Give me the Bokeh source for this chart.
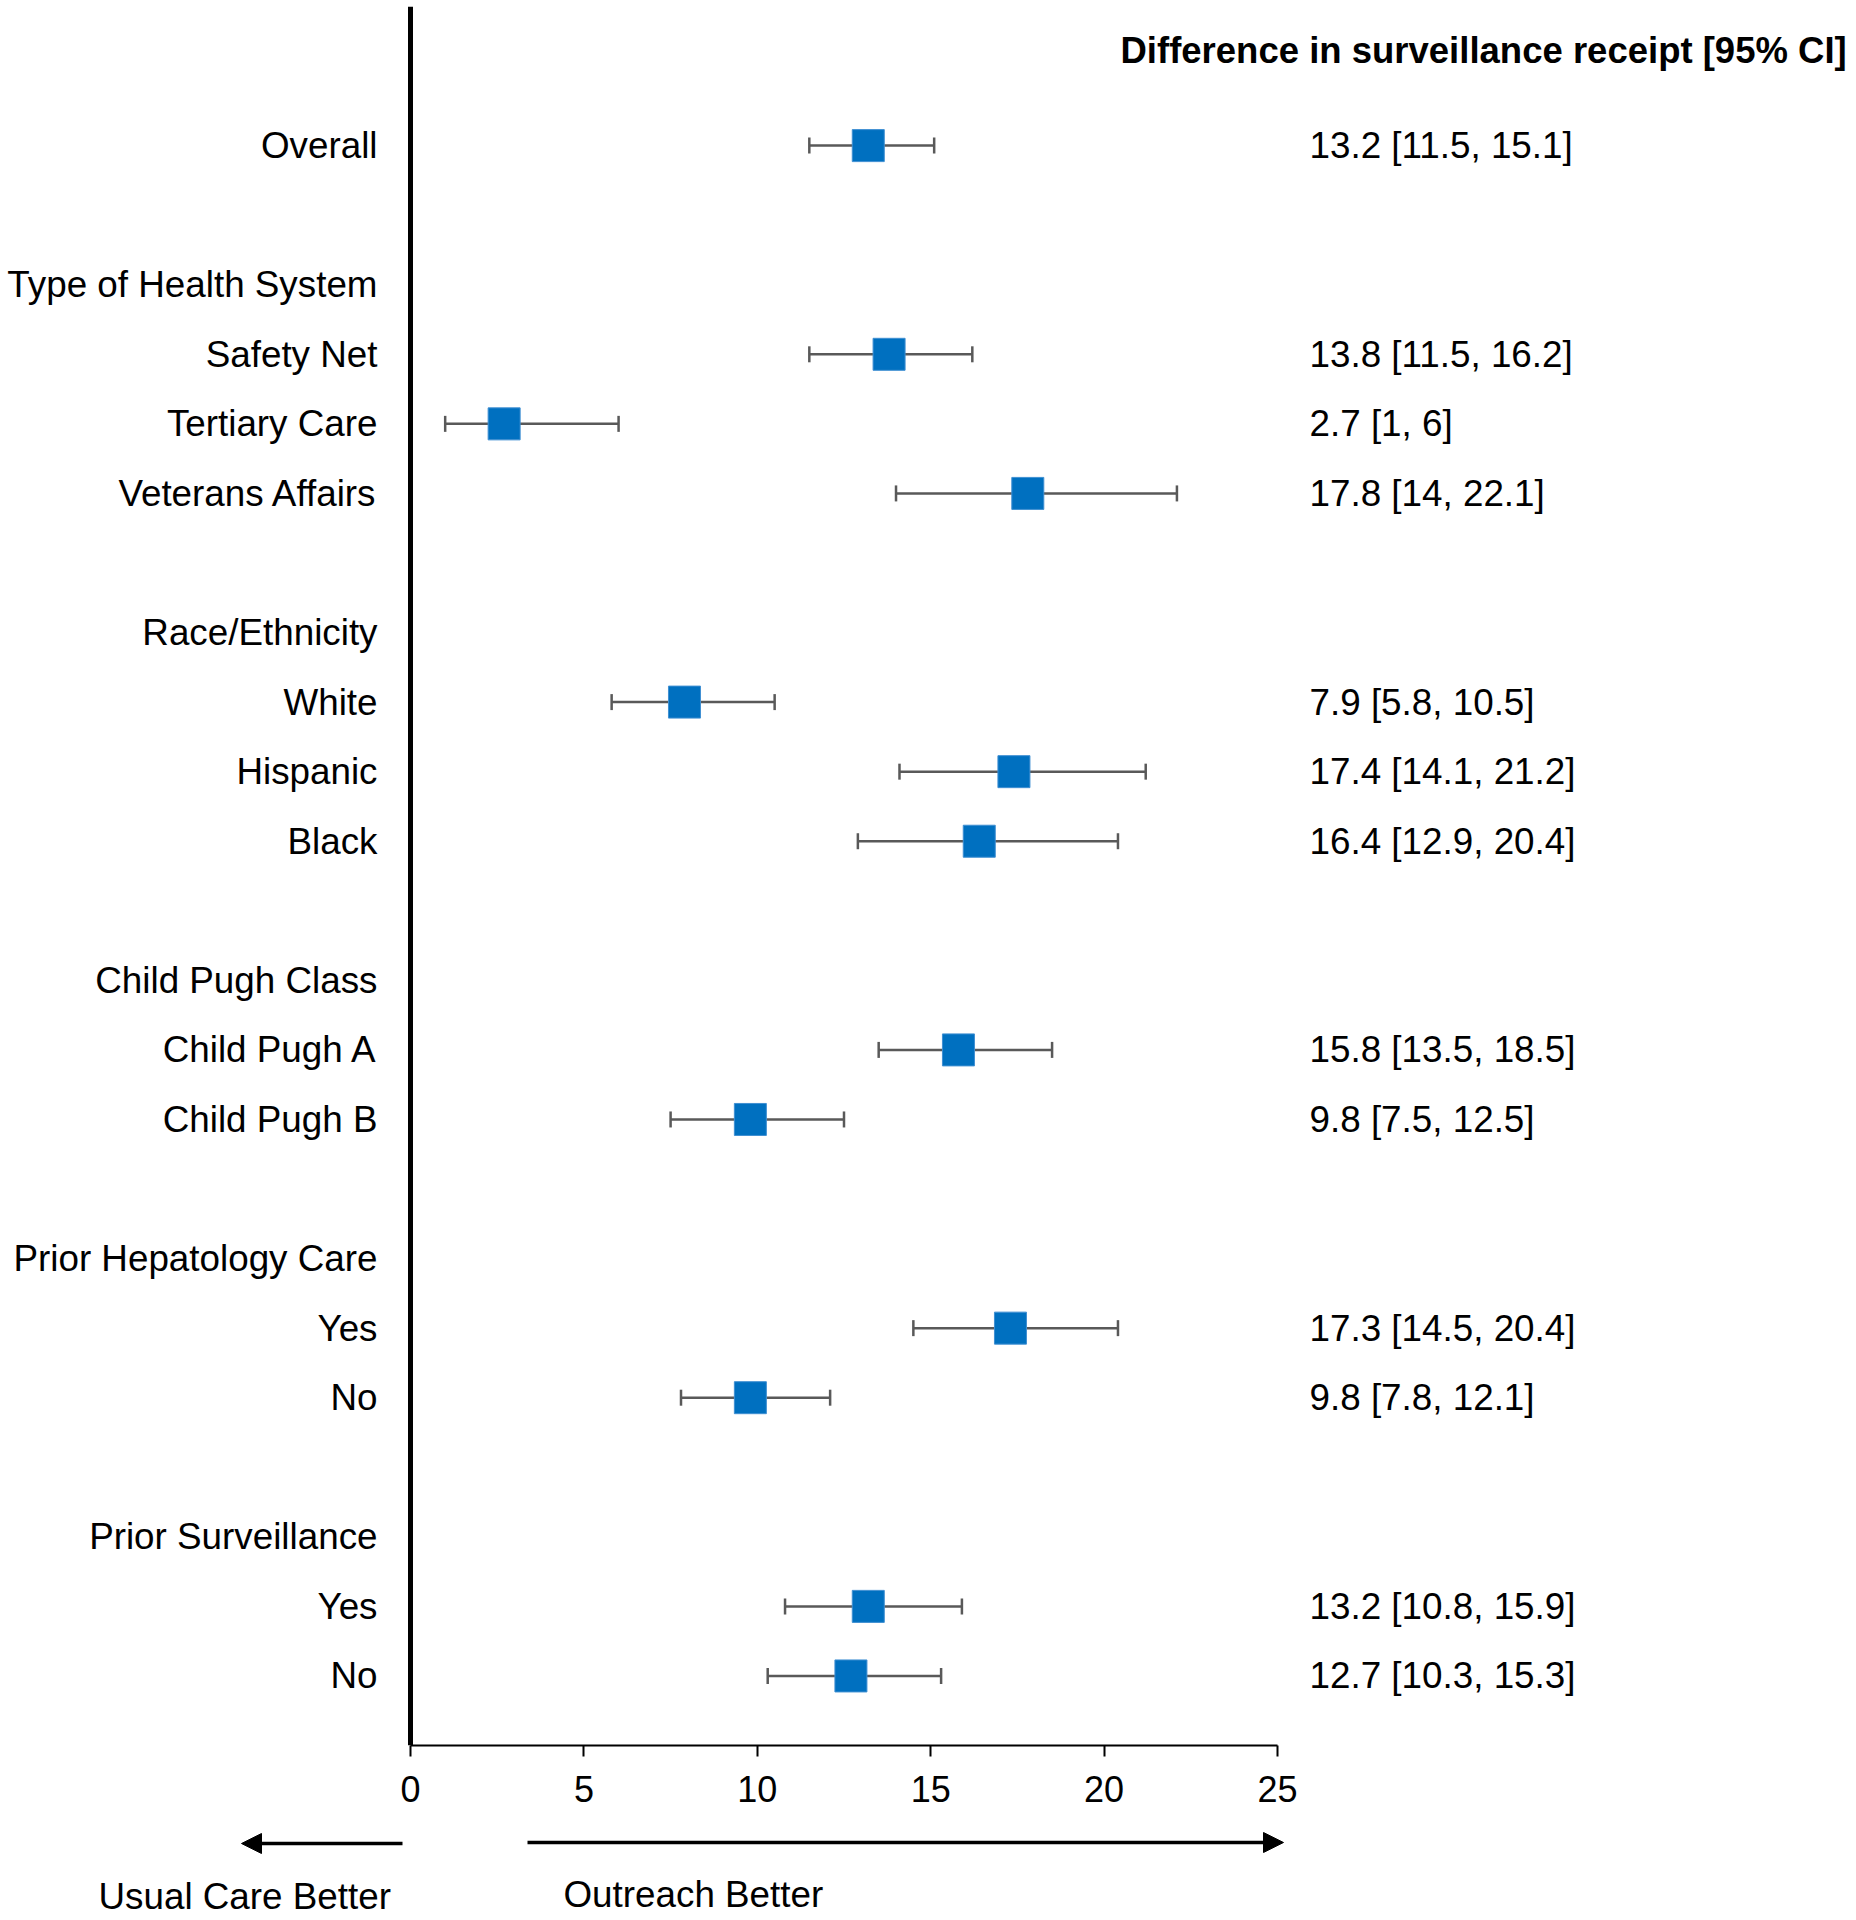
from bokeh.plotting import figure
from bokeh.models import (Range1d, FixedTicker, Span, Whisker, TeeHead,
                          ColumnDataSource, Arrow, NormalHead)
from bokeh.layouts import column
from bokeh.core.properties import value
from bokeh.embed import file_html
from bokeh.resources import INLINE

# ---------------- data ----------------
row_labels = ["Overall", "", "Type of Health System", "Safety Net", "Tertiary Care",
              "Veterans Affairs", "", "Race/Ethnicity", "White", "Hispanic", "Black", "",
              "Child Pugh Class", "Child Pugh A", "Child Pugh B", "",
              "Prior Hepatology Care", "Yes", "No", "", "Prior Surveillance", "Yes", "No"]
estimate = [13.2, None, None, 13.8, 2.7, 17.8, None, None, 7.9, 17.4, 16.4, None,
            None, 15.8, 9.8, None, None, 17.3, 9.8, None, None, 13.2, 12.7]
ci_low = [11.5, None, None, 11.5, 1.0, 14.0, None, None, 5.8, 14.1, 12.9, None,
          None, 13.5, 7.5, None, None, 14.5, 7.8, None, None, 10.8, 10.3]
ci_high = [15.1, None, None, 16.2, 6.0, 22.1, None, None, 10.5, 21.2, 20.4, None,
           None, 18.5, 12.5, None, None, 20.4, 12.1, None, None, 15.9, 15.3]
x_ticks = [0, 5, 10, 15, 20, 25]
header = "Difference in surveillance receipt [95% CI]"
left_note = "Usual Care Better"
right_note = "Outreach Better"

# ---------------- layout constants ----------------
W = 1854
AXIS_PX = 410.0            # canvas x of value 0
PX_PER_UNIT = 867.0 / 25   # pixels per unit
FONT = value("Liberation Sans")
TXT = value("36.8px")
xr = Range1d(-AXIS_PX / PX_PER_UNIT, (W - AXIS_PX) / PX_PER_UNIT)

def px_to_x(px):
    return (px - AXIS_PX) / PX_PER_UNIT

rows = list(range(len(row_labels)))
idx = [i for i in rows if estimate[i] is not None]
src = ColumnDataSource(dict(
    y=[i for i in idx],
    est=[estimate[i] for i in idx],
    lo=[ci_low[i] for i in idx],
    hi=[ci_high[i] for i in idx],
    txt=[f"{estimate[i]:g} [{ci_low[i]:g}, {ci_high[i]:g}]" for i in idx],
))

H1 = 1815
p = figure(width=W, height=H1, x_range=xr, y_range=Range1d(len(row_labels), -2),
           output_backend="svg", toolbar_location=None, y_axis_location=None,
           min_border_left=0, min_border_right=0, min_border_top=6, min_border_bottom=70)
p.grid.visible = False
p.outline_line_color = None

ax = p.xaxis[0]
ax.bounds = (0, 25)
ax.ticker = FixedTicker(ticks=x_ticks)
ax.minor_tick_line_color = None
ax.major_tick_in = 0
ax.major_tick_out = 11
ax.major_tick_line_width = 2
ax.major_tick_line_color = "black"
ax.axis_line_width = 2
ax.axis_line_color = "black"
ax.major_label_standoff = 19
ax.major_label_text_font = "Liberation Sans"
ax.major_label_text_font_size = "36px"
ax.major_label_text_color = "black"

p.add_layout(Span(location=0, dimension="height", line_color="black", line_width=5))

p.add_layout(Whisker(source=src, base="y", lower="lo", upper="hi", dimension="width",
                     line_color="#595959", line_width=2.5,
                     lower_head=TeeHead(size=16, line_color="#595959", line_width=2.5),
                     upper_head=TeeHead(size=16, line_color="#595959", line_width=2.5)))
p.scatter(x="est", y="y", source=src, marker="square", size=32,
          fill_color="#0070C0", line_color="#3f8fd2", line_width=1)

p.text(x=[px_to_x(377)] * len(rows), y=rows, text=row_labels, text_font=FONT,
       text_font_size=TXT, text_align="right", text_baseline="middle",
       text_color="black")
p.text(x=px_to_x(1309), y="y", text="txt", source=src, text_font=FONT,
       text_font_size=TXT, text_align="left", text_baseline="middle",
       text_color="black")
p.text(x=[px_to_x(1120)], y=[-1.37], text=[header], text_font=FONT,
       text_font_size=value("36.5px"), text_font_style="bold", text_align="left",
       text_baseline="middle", text_color="black")

# ---------------- bottom annotation strip ----------------
H2 = 105
p2 = figure(width=W, height=H2, x_range=xr, y_range=Range1d(H2, 0),
            output_backend="svg", toolbar_location=None,
            x_axis_location=None, y_axis_location=None, min_border=0)
p2.grid.visible = False
p2.outline_line_color = None
p2.add_layout(Arrow(x_start=px_to_x(402), y_start=28, x_end=px_to_x(241), y_end=28,
                    line_width=3.5, line_color="black",
                    end=NormalHead(size=20, fill_color="black", line_color="black",
                                   line_width=1)))
p2.add_layout(Arrow(x_start=px_to_x(527), y_start=27, x_end=px_to_x(1283), y_end=27,
                    line_width=3.5, line_color="black",
                    end=NormalHead(size=20, fill_color="black", line_color="black",
                                   line_width=1)))
p2.text(x=[px_to_x(98)], y=[81], text=[left_note], text_font=FONT,
        text_font_size=TXT, text_align="left", text_baseline="middle",
        text_color="black")
p2.text(x=[px_to_x(563)], y=[79], text=[right_note], text_font=FONT,
        text_font_size=TXT, text_align="left", text_baseline="middle",
        text_color="black")

layout = column(p, p2, spacing=0)
open("out.html", "w").write(file_html(layout, INLINE))
